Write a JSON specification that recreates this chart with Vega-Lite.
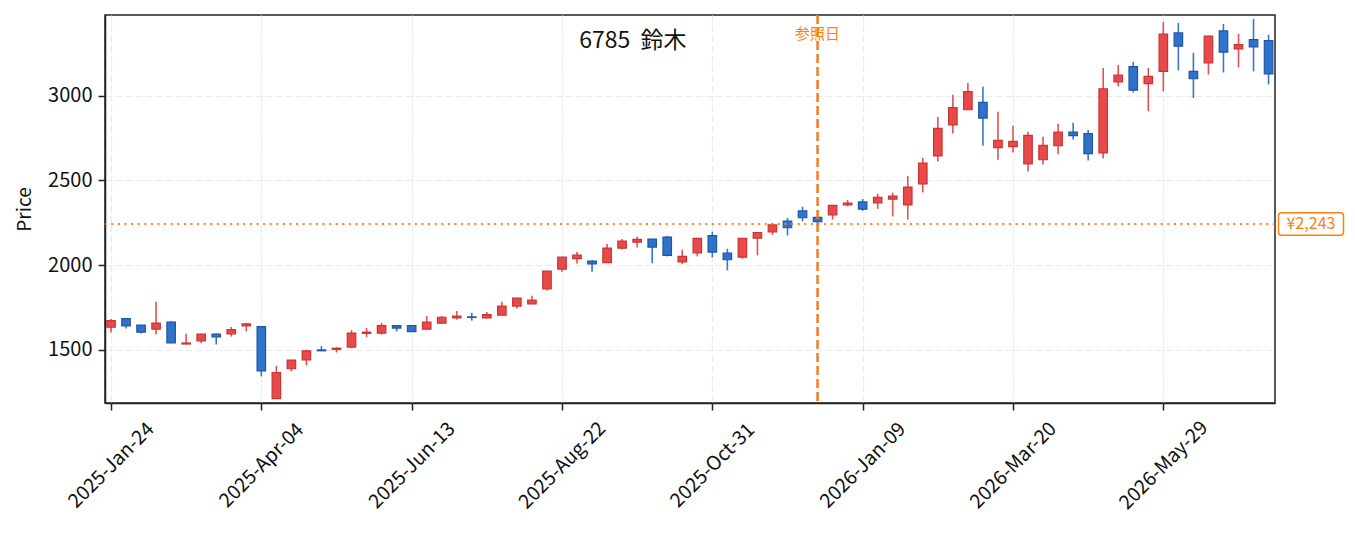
{
  "$schema": "https://vega.github.io/schema/vega-lite/v6.json",
  "width": 1170,
  "height": 388,
  "autosize": {"type": "none"},
  "padding": {"left": 105, "top": 15, "right": 80, "bottom": 130},
  "data": {
    "values": [
      {"date": "2025-01-24", "open": 1634, "high": 1683, "low": 1603, "close": 1673},
      {"date": "2025-01-31", "open": 1685, "high": 1686, "low": 1626, "close": 1642},
      {"date": "2025-02-07", "open": 1646, "high": 1647, "low": 1597, "close": 1605},
      {"date": "2025-02-14", "open": 1623, "high": 1784, "low": 1591, "close": 1658},
      {"date": "2025-02-21", "open": 1664, "high": 1670, "low": 1540, "close": 1542},
      {"date": "2025-02-28", "open": 1535, "high": 1595, "low": 1534, "close": 1541},
      {"date": "2025-03-07", "open": 1554, "high": 1595, "low": 1540, "close": 1593},
      {"date": "2025-03-14", "open": 1593, "high": 1598, "low": 1532, "close": 1577},
      {"date": "2025-03-21", "open": 1595, "high": 1636, "low": 1579, "close": 1620},
      {"date": "2025-03-28", "open": 1642, "high": 1660, "low": 1609, "close": 1654},
      {"date": "2025-04-04", "open": 1638, "high": 1640, "low": 1344, "close": 1377},
      {"date": "2025-04-11", "open": 1213, "high": 1407, "low": 1211, "close": 1367},
      {"date": "2025-04-18", "open": 1389, "high": 1441, "low": 1373, "close": 1440},
      {"date": "2025-04-25", "open": 1442, "high": 1501, "low": 1409, "close": 1495},
      {"date": "2025-05-02", "open": 1500, "high": 1523, "low": 1494, "close": 1495},
      {"date": "2025-05-09", "open": 1503, "high": 1517, "low": 1485, "close": 1510},
      {"date": "2025-05-16", "open": 1517, "high": 1617, "low": 1509, "close": 1599},
      {"date": "2025-05-23", "open": 1598, "high": 1630, "low": 1575, "close": 1605},
      {"date": "2025-05-30", "open": 1599, "high": 1660, "low": 1591, "close": 1644},
      {"date": "2025-06-06", "open": 1644, "high": 1645, "low": 1609, "close": 1629},
      {"date": "2025-06-13", "open": 1643, "high": 1644, "low": 1607, "close": 1608},
      {"date": "2025-06-20", "open": 1623, "high": 1701, "low": 1621, "close": 1664},
      {"date": "2025-06-27", "open": 1658, "high": 1701, "low": 1656, "close": 1693},
      {"date": "2025-07-04", "open": 1689, "high": 1730, "low": 1679, "close": 1699},
      {"date": "2025-07-11", "open": 1695, "high": 1719, "low": 1673, "close": 1692},
      {"date": "2025-07-18", "open": 1689, "high": 1724, "low": 1687, "close": 1708},
      {"date": "2025-07-25", "open": 1706, "high": 1784, "low": 1704, "close": 1759},
      {"date": "2025-08-01", "open": 1759, "high": 1808, "low": 1745, "close": 1806},
      {"date": "2025-08-08", "open": 1771, "high": 1819, "low": 1769, "close": 1794},
      {"date": "2025-08-15", "open": 1860, "high": 1966, "low": 1851, "close": 1965},
      {"date": "2025-08-22", "open": 1977, "high": 2048, "low": 1962, "close": 2047},
      {"date": "2025-08-29", "open": 2039, "high": 2078, "low": 2010, "close": 2059},
      {"date": "2025-09-05", "open": 2024, "high": 2031, "low": 1962, "close": 2008},
      {"date": "2025-09-12", "open": 2015, "high": 2126, "low": 2013, "close": 2101},
      {"date": "2025-09-19", "open": 2101, "high": 2154, "low": 2093, "close": 2142},
      {"date": "2025-09-26", "open": 2136, "high": 2168, "low": 2105, "close": 2152},
      {"date": "2025-10-03", "open": 2154, "high": 2155, "low": 2011, "close": 2107},
      {"date": "2025-10-10", "open": 2166, "high": 2173, "low": 2052, "close": 2058},
      {"date": "2025-10-17", "open": 2019, "high": 2091, "low": 2007, "close": 2052},
      {"date": "2025-10-24", "open": 2073, "high": 2158, "low": 2052, "close": 2158},
      {"date": "2025-10-31", "open": 2175, "high": 2197, "low": 2046, "close": 2077},
      {"date": "2025-11-07", "open": 2072, "high": 2097, "low": 1969, "close": 2032},
      {"date": "2025-11-14", "open": 2048, "high": 2158, "low": 2038, "close": 2158},
      {"date": "2025-11-21", "open": 2160, "high": 2194, "low": 2058, "close": 2193},
      {"date": "2025-11-28", "open": 2197, "high": 2248, "low": 2179, "close": 2238},
      {"date": "2025-12-05", "open": 2260, "high": 2279, "low": 2175, "close": 2221},
      {"date": "2025-12-12", "open": 2320, "high": 2345, "low": 2259, "close": 2280},
      {"date": "2025-12-19", "open": 2282, "high": 2288, "low": 2226, "close": 2257},
      {"date": "2025-12-26", "open": 2296, "high": 2353, "low": 2269, "close": 2353},
      {"date": "2026-01-02", "open": 2355, "high": 2384, "low": 2347, "close": 2367},
      {"date": "2026-01-09", "open": 2373, "high": 2390, "low": 2321, "close": 2331},
      {"date": "2026-01-16", "open": 2367, "high": 2421, "low": 2333, "close": 2400},
      {"date": "2026-01-23", "open": 2390, "high": 2427, "low": 2288, "close": 2408},
      {"date": "2026-01-30", "open": 2355, "high": 2527, "low": 2269, "close": 2461},
      {"date": "2026-02-06", "open": 2480, "high": 2633, "low": 2429, "close": 2602},
      {"date": "2026-02-13", "open": 2645, "high": 2875, "low": 2611, "close": 2807},
      {"date": "2026-02-20", "open": 2828, "high": 3005, "low": 2777, "close": 2930},
      {"date": "2026-02-27", "open": 2917, "high": 3075, "low": 2915, "close": 3024},
      {"date": "2026-03-06", "open": 2960, "high": 3052, "low": 2705, "close": 2868},
      {"date": "2026-03-13", "open": 2693, "high": 2905, "low": 2622, "close": 2736},
      {"date": "2026-03-20", "open": 2699, "high": 2823, "low": 2665, "close": 2730},
      {"date": "2026-03-27", "open": 2598, "high": 2787, "low": 2553, "close": 2766},
      {"date": "2026-04-03", "open": 2622, "high": 2758, "low": 2594, "close": 2707},
      {"date": "2026-04-10", "open": 2705, "high": 2834, "low": 2654, "close": 2785},
      {"date": "2026-04-17", "open": 2785, "high": 2840, "low": 2742, "close": 2764},
      {"date": "2026-04-24", "open": 2777, "high": 2797, "low": 2617, "close": 2658},
      {"date": "2026-05-01", "open": 2663, "high": 3164, "low": 2630, "close": 3041},
      {"date": "2026-05-08", "open": 3081, "high": 3182, "low": 3055, "close": 3122},
      {"date": "2026-05-15", "open": 3172, "high": 3200, "low": 3019, "close": 3033},
      {"date": "2026-05-22", "open": 3071, "high": 3164, "low": 2908, "close": 3114},
      {"date": "2026-05-29", "open": 3143, "high": 3435, "low": 3025, "close": 3364},
      {"date": "2026-06-05", "open": 3370, "high": 3429, "low": 3149, "close": 3292},
      {"date": "2026-06-12", "open": 3143, "high": 3253, "low": 2986, "close": 3100},
      {"date": "2026-06-19", "open": 3194, "high": 3352, "low": 3125, "close": 3351},
      {"date": "2026-06-26", "open": 3382, "high": 3423, "low": 3137, "close": 3257},
      {"date": "2026-07-03", "open": 3276, "high": 3365, "low": 3167, "close": 3301},
      {"date": "2026-07-10", "open": 3331, "high": 3453, "low": 3143, "close": 3288},
      {"date": "2026-07-17", "open": 3325, "high": 3359, "low": 3066, "close": 3129}
    ]
  },
  "layer": [
    {
      "mark": {"type": "rule", "strokeWidth": 1.6},
      "encoding": {
        "x": {
          "field": "date",
          "type": "temporal",
          "title": null,
          "scale": {
            "type": "utc",
            "nice": false,
            "padding": 0,
            "domain": [
              {"year": 2025, "month": 1, "date": 21, "hours": 5, "utc": true},
              {"year": 2026, "month": 7, "date": 20, "utc": true}
            ]
          },
          "axis": {
            "values": [
              {"year": 2025, "month": 1, "date": 24, "utc": true},
              {"year": 2025, "month": 4, "date": 4, "utc": true},
              {"year": 2025, "month": 6, "date": 13, "utc": true},
              {"year": 2025, "month": 8, "date": 22, "utc": true},
              {"year": 2025, "month": 10, "date": 31, "utc": true},
              {"year": 2026, "month": 1, "date": 9, "utc": true},
              {"year": 2026, "month": 3, "date": 20, "utc": true},
              {"year": 2026, "month": 5, "date": 29, "utc": true}
            ],
            "format": "%Y-%b-%d",
            "labelAngle": -45,
            "labelAlign": "center",
            "labelBaseline": "middle",
            "labelPadding": 55,
            "labelFontSize": 19.5,
            "grid": true
          }
        },
        "y": {
          "field": "low",
          "type": "quantitative",
          "title": "Price",
          "scale": {"domain": [1187, 3476], "nice": false, "zero": false},
          "axis": {"values": [1500, 2000, 2500, 3000], "format": "d", "grid": true, "labelPadding": 6, "labelFontSize": 20, "titlePadding": 13}
        },
        "y2": {"field": "high"},
        "color": {
          "condition": {"test": "datum.close >= datum.open", "value": "#e25252"},
          "value": "#3978c9"
        }
      }
    },
    {
      "mark": {"type": "bar", "width": 8.5, "strokeWidth": 1.2},
      "encoding": {
        "x": {"field": "date", "type": "temporal", "title": null},
        "y": {"field": "open", "type": "quantitative", "title": "Price"},
        "y2": {"field": "close"},
        "fill": {
          "condition": {"test": "datum.close >= datum.open", "value": "#e84a4a"},
          "value": "#2f72c9"
        },
        "stroke": {
          "condition": {"test": "datum.close >= datum.open", "value": "#c93535"},
          "value": "#1f57a8"
        }
      }
    },
    {
      "data": {"values": [{}]},
      "mark": {"type": "rule", "color": "#ff7f0e", "strokeWidth": 2.2, "strokeDash": [2.2, 4.4], "opacity": 0.9},
      "encoding": {"y": {"datum": 2243, "type": "quantitative", "title": "Price"}}
    },
    {
      "data": {"values": [{}]},
      "mark": {"type": "rule", "color": "#f07d22", "strokeWidth": 2.5, "strokeDash": [9, 4]},
      "encoding": {"x": {"datum": {"year": 2025, "month": 12, "date": 19, "utc": true}, "type": "temporal", "title": null}}
    },
    {
      "data": {"values": [{}]},
      "mark": {"type": "text", "text": "6785\u00a0 鈴木", "color": "#111", "font": "Noto Sans CJK JP", "fontSize": 23, "fontWeight": "normal", "align": "center", "baseline": "middle"},
      "encoding": {
        "x": {"datum": {"year": 2025, "month": 9, "date": 24, "utc": true}, "type": "temporal", "title": null},
        "y": {"datum": 3323, "type": "quantitative", "title": "Price"}
      }
    },
    {
      "data": {"values": [{}]},
      "mark": {"type": "text", "text": "参照日", "color": "#ff7f0e", "font": "Noto Sans CJK JP", "fontSize": 15, "fontWeight": "normal", "align": "center", "baseline": "middle"},
      "encoding": {
        "x": {"datum": {"year": 2025, "month": 12, "date": 19, "utc": true}, "type": "temporal", "title": null},
        "y": {"datum": 3364, "type": "quantitative", "title": "Price"}
      }
    },
    {
      "data": {"values": [{}]},
      "mark": {
        "type": "point",
        "shape": "M-0.9,-0.344 L0.9,-0.344 Q1,-0.344 1,-0.244 L1,0.244 Q1,0.344 0.9,0.344 L-0.9,0.344 Q-1,0.344 -1,0.244 L-1,-0.244 Q-1,-0.344 -0.9,-0.344 Z",
        "size": 4225,
        "filled": true,
        "fill": "white",
        "stroke": "#ff7f0e",
        "strokeWidth": 1.5,
        "opacity": 1,
        "xOffset": 36
      },
      "encoding": {
        "x": {"datum": {"year": 2026, "month": 7, "date": 20, "utc": true}, "type": "temporal", "title": null},
        "y": {"datum": 2243, "type": "quantitative", "title": "Price"}
      }
    },
    {
      "data": {"values": [{}]},
      "mark": {"type": "text", "text": "¥2,243", "color": "#ff7f0e", "font": "Noto Sans CJK JP", "fontSize": 16, "fontWeight": "normal", "align": "center", "baseline": "middle", "dx": 36},
      "encoding": {
        "x": {"datum": {"year": 2026, "month": 7, "date": 20, "utc": true}, "type": "temporal", "title": null},
        "y": {"datum": 2243, "type": "quantitative", "title": "Price"}
      }
    }
  ],
  "config": {
    "view": {"stroke": "#222", "strokeWidth": 1.5},
    "axis": {
      "domainColor": "#222",
      "domainWidth": 1.5,
      "tickColor": "#222",
      "tickWidth": 1.5,
      "tickSize": 7,
      "labelFont": "Noto Sans CJK JP",
      "labelFontSize": 19,
      "labelColor": "#111",
      "titleFont": "Noto Sans CJK JP",
      "titleFontSize": 19,
      "titleFontWeight": "normal",
      "titleColor": "#111",
      "gridColor": "#ebebeb",
      "gridDash": [7, 3],
      "gridWidth": 1.2
    }
  }
}
